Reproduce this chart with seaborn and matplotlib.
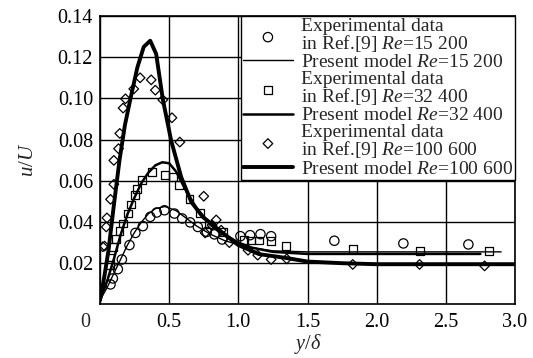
import matplotlib
matplotlib.use("Agg")
import matplotlib.pyplot as plt
import matplotlib.transforms as mtransforms
import seaborn as sns
import pandas as pd
import numpy as np

# ---------------- data ----------------
exp15_x = [0.076, 0.093, 0.129, 0.158, 0.213, 0.256, 0.31, 0.363, 0.41, 0.466, 0.538, 0.594,
           0.652, 0.707, 0.772, 0.827, 0.883, 1.015, 1.085, 1.16, 1.237, 1.694, 2.193, 2.663]
exp15_y = [0.0097, 0.0126, 0.0171, 0.0218, 0.0288, 0.0347, 0.038, 0.0425, 0.0446, 0.0457, 0.0441, 0.0417,
           0.0398, 0.0376, 0.0352, 0.034, 0.0315, 0.0331, 0.0336, 0.0341, 0.0331, 0.0309, 0.0296, 0.0291]

exp32_x = [0.07, 0.076, 0.093, 0.117, 0.141, 0.165, 0.20, 0.225, 0.25, 0.266, 0.305, 0.376, 0.467,
           0.526, 0.574, 0.647, 0.72, 0.786, 0.89, 1.044, 1.09, 1.15, 1.237, 1.345, 1.827, 2.316, 2.81]
exp32_y = [0.019, 0.0228, 0.0277, 0.0317, 0.0356, 0.0393, 0.0441, 0.0485, 0.0533, 0.0562, 0.0604, 0.0643, 0.0627,
           0.0618, 0.058, 0.051, 0.0444, 0.0388, 0.0350, 0.0311, 0.031, 0.031, 0.0308, 0.0283, 0.0267, 0.026, 0.026]

exp100_x = [0.02, 0.033, 0.045, 0.05, 0.076, 0.10, 0.10, 0.134, 0.143, 0.167, 0.184, 0.244, 0.29, 0.37, 0.40,
            0.454, 0.52, 0.577, 0.75, 0.76, 0.81, 0.84, 0.876, 0.935, 1.07, 1.14, 1.237, 1.35, 1.827, 2.31, 2.78]
exp100_y = [0.028, 0.0283, 0.0376, 0.042, 0.051, 0.0583, 0.0699, 0.0756, 0.083, 0.0953, 0.0998, 0.1046, 0.110, 0.109,
            0.104, 0.0993, 0.0906, 0.0788, 0.0525, 0.0347, 0.0385, 0.041, 0.036, 0.030, 0.0263, 0.0239, 0.0218, 0.0221,
            0.0194, 0.0194, 0.0187]

mod15_x = [0, 0.05, 0.1, 0.15, 0.2, 0.25, 0.3, 0.35, 0.4, 0.47, 0.55, 0.6, 0.7, 0.8, 0.9, 1.0, 1.1, 1.25,
           1.5, 2.0, 2.9]
mod15_y = [0.002, 0.008, 0.015, 0.022, 0.029, 0.035, 0.040, 0.044, 0.0465, 0.0475, 0.0455, 0.043, 0.038, 0.034,
           0.031, 0.029, 0.0275, 0.026, 0.0255, 0.0255, 0.0255]

mod32_x = [0, 0.05, 0.1, 0.15, 0.2, 0.25, 0.3, 0.35, 0.4, 0.45, 0.5, 0.55, 0.6, 0.65, 0.7, 0.8, 0.9, 1.0,
           1.1, 1.25, 1.5, 2.0, 2.75]
mod32_y = [0.002, 0.011, 0.022, 0.034, 0.044, 0.052, 0.059, 0.064, 0.0675, 0.069, 0.0685, 0.0645, 0.058, 0.052,
           0.0465, 0.0385, 0.034, 0.030, 0.0275, 0.0255, 0.0245, 0.0245, 0.0245]

mod100_x = [0, 0.03, 0.061, 0.1, 0.141, 0.18, 0.22, 0.27, 0.316, 0.363, 0.406, 0.454, 0.514, 0.587, 0.66,
            0.743, 0.863, 1.0, 1.15, 1.35, 1.5, 1.75, 2.0, 3.0]
mod100_y = [0.002, 0.013, 0.026, 0.048, 0.070, 0.087, 0.0998, 0.115, 0.125, 0.128, 0.1216, 0.0996, 0.0796,
            0.0618, 0.0497, 0.0425, 0.036, 0.0288, 0.0244, 0.0225, 0.0208, 0.0200, 0.0195, 0.0195]

x_ticks = [0, 0.5, 1.0, 1.5, 2.0, 2.5, 3.0]
x_ticklabels = ["", "0.5", "1.0", "1.5", "2.0", "2.5", "3.0"]
y_ticks = [0.02, 0.04, 0.06, 0.08, 0.10, 0.12, 0.14]
y_ticklabels = ["0.02", "0.04", "0.06", "0.08", "0.10", "0.12", "0.14"]

labels = {
    "e15": "Experimental data\nin Ref.[9] $Re$=15 200",
    "m15": "Present model $Re$=15 200",
    "e32": "Experimental data\nin Ref.[9] $Re$=32 400",
    "m32": "Present model $Re$=32 400",
    "e100": "Experimental data\nin Ref.[9] $Re$=100 600",
    "m100": "Present model $Re$=100 600",
}

# ---------------- style ----------------
sns.set_theme(style="white")
plt.rcParams["font.family"] = ["Liberation Serif", "DejaVu Serif"]
plt.rcParams["mathtext.fontset"] = "custom"
plt.rcParams["mathtext.rm"] = "Liberation Serif"
plt.rcParams["mathtext.it"] = "Liberation Serif:italic"
plt.rcParams["mathtext.bf"] = "Liberation Serif:bold"

fig = plt.figure(figsize=(5.33, 3.58), dpi=100)
ax = fig.add_axes([100 / 533, 1 - 304.4 / 358, 415 / 533, 288.4 / 358])

mk = dict(facecolor="none", edgecolor="black", linewidth=0.9, zorder=4)
sns.scatterplot(x=exp15_x, y=exp15_y, marker="o", s=45, ax=ax, label=labels["e15"], **mk)
sns.lineplot(x=mod15_x, y=mod15_y, color="black", lw=1.0, ax=ax, label=labels["m15"], sort=False, zorder=3)
sns.scatterplot(x=exp32_x, y=exp32_y, marker="s", s=32, ax=ax, label=labels["e32"], **mk)
sns.lineplot(x=mod32_x, y=mod32_y, color="black", lw=1.8, ax=ax, label=labels["m32"], sort=False, zorder=3)
sns.scatterplot(x=exp100_x, y=exp100_y, marker="D", s=24, ax=ax, label=labels["e100"], **mk)
sns.lineplot(x=mod100_x, y=mod100_y, color="black", lw=2.8, ax=ax, label=labels["m100"], sort=False, zorder=3)

ax.set_xlim(0, 3.0)
ax.set_ylim(0, 0.14)
ax.set_xticks(x_ticks)
ax.set_xticklabels(x_ticklabels)
ax.set_yticks(y_ticks)
ax.set_yticklabels(y_ticklabels)
ax.tick_params(axis="both", length=0, labelsize=14.5, colors="black")
ax.tick_params(axis="x", pad=6)
ax.tick_params(axis="y", pad=5)
ax.grid(True, color="black", linewidth=1.0)
ax.set_axisbelow(True)
for s in ax.spines.values():
    s.set_color("black")
    s.set_linewidth(1.2)

# shared origin label "0", placed in the x tick-label row, left of the axis corner
trans = ax.transAxes + mtransforms.ScaledTranslation(0, -6 / 72, fig.dpi_scale_trans)
ax.text(-0.035, 0, "0", transform=trans, ha="center", va="top", fontsize=14.5)
ax.set_xlabel("$y$/$\\delta$", fontsize=14.5, labelpad=0)
ax.set_ylabel("$u$/$U$", fontsize=15, labelpad=14)

h, l = ax.get_legend_handles_labels()
order = [labels[k] for k in ["e15", "m15", "e32", "m32", "e100", "m100"]]
hmap = dict(zip(l, h))
leg = ax.legend([hmap[k] for k in order], order, loc="upper right", bbox_to_anchor=(1.0, 1.0),
                borderaxespad=0, fontsize=14, frameon=True, fancybox=False, framealpha=1,
                edgecolor="black", handlelength=2.6, handletextpad=0.4, labelspacing=0.0,
                borderpad=0.1)
leg.get_frame().set_linewidth(1.0)
for t in leg.get_texts():
    t.set_linespacing(0.85)

fig.savefig("out.png", dpi=100)
